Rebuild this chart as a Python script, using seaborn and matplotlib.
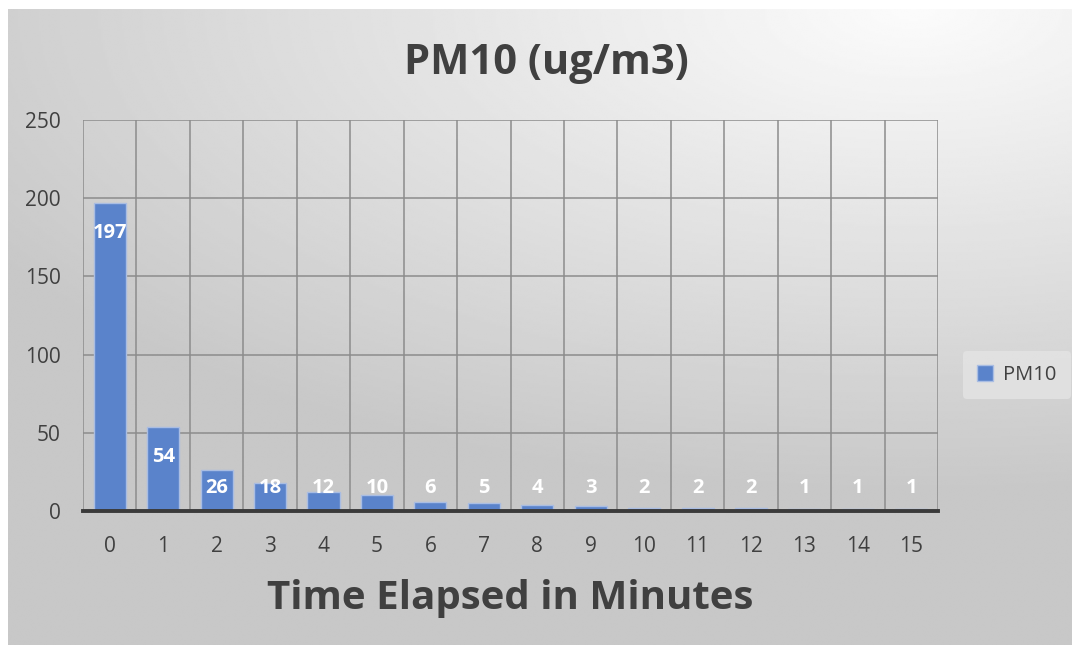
import numpy as np
import pandas as pd
import seaborn as sns
import matplotlib.pyplot as plt
from matplotlib.patches import Patch

minutes = [0, 1, 2, 3, 4, 5, 6, 7, 8, 9, 10, 11, 12, 13, 14, 15]
pm10 = [197, 54, 26, 18, 12, 10, 6, 5, 4, 3, 2, 2, 2, 1, 1, 1]
y_ticks = [0, 50, 100, 150, 200, 250]

title = 'PM10 (ug/m3)'
x_label = 'Time Elapsed in Minutes'
series_name = 'PM10'

df = pd.DataFrame({'minute': minutes, 'pm10': pm10})

sns.set_theme(style='white')
plt.rcParams['font.family'] = ['Open Sans', 'DejaVu Sans']

bar_color = '#5A83CB'
text_color = '#404040'

fig = plt.figure(figsize=(10.75, 6.52), dpi=100)
fig.patch.set_facecolor('white')

# gradient background of the chart area
bg = fig.add_axes([8 / 1075, 7 / 652, 1064 / 1075, 636 / 652])
h, w = 300, 500
yy, xx = np.mgrid[0:h, 0:w]
cx, cy = 0.85 * w, 0.0
r = np.sqrt(((xx - cx) / w) ** 2 + ((yy - cy) / (0.75 * h)) ** 2)
r = np.clip(r, 0, 1)
shade = 0.985 - 0.2 * r
bg.imshow(shade, cmap='gray', vmin=0, vmax=1, aspect='auto',
          extent=[0, 1, 0, 1], interpolation='bilinear')
bg.axis('off')

ax = fig.add_axes([83 / 1075, 1 - 511 / 652, 855 / 1075, 391 / 652])
ax.patch.set_alpha(0)
sns.barplot(data=df, x='minute', y='pm10', color=bar_color, saturation=1,
            width=0.6, edgecolor='#A9BDE3', linewidth=1, ax=ax, zorder=3)

ax.set_xlim(-0.5, len(minutes) - 0.5)
ax.set_ylim(0, 250)
ax.set_yticks(y_ticks)
ax.set_xticks(range(len(minutes)))
ax.set_xticklabels([str(m) for m in minutes])
ax.set_xticks(np.arange(-0.5, len(minutes), 1.0), minor=True)
ax.grid(axis='y', which='major', color='#8c8c8c', linewidth=1.1, zorder=0)
ax.grid(axis='x', which='minor', color='#8c8c8c', linewidth=1.1, zorder=0)
ax.grid(axis='x', which='major', visible=False)
for s in ['top', 'right', 'left']:
    ax.spines[s].set_visible(False)
ax.spines['bottom'].set_color('#3a3a3a')
ax.spines['bottom'].set_linewidth(2.8)
ax.spines['bottom'].set_zorder(5)
ax.tick_params(axis='both', which='both', length=0, labelsize=15,
               labelcolor=text_color)
ax.tick_params(axis='x', pad=18)
ax.tick_params(axis='y', pad=16)

for i, v in enumerate(pm10):
    ax.text(i, max(v - 19.5, 15), str(v), ha='center', va='center',
            color='white', fontsize=14.5, fontweight='bold', zorder=6)

ax.set_ylabel('')
ax.set_xlabel(x_label, fontsize=29, fontweight='bold', color=text_color,
              labelpad=16)

fig.text(546 / 1075, 1 - 63 / 652, title, ha='center', va='center',
         fontsize=30, fontweight='bold', color=text_color)

handles = [Patch(facecolor=bar_color, edgecolor='#A9BDE3', label=series_name)]
leg = fig.legend(handles=handles, loc='center', bbox_to_anchor=(1017 / 1075, 1 - 375 / 652),
                 fontsize=14.5, frameon=True, handlelength=0.8, handleheight=0.8,
                 handletextpad=0.5, borderpad=0.7, labelcolor=text_color)
leg.get_frame().set_facecolor('#e4e4e4')
leg.get_frame().set_edgecolor('none')
leg.get_frame().set_alpha(0.8)

fig.savefig('out.png', dpi=100)
